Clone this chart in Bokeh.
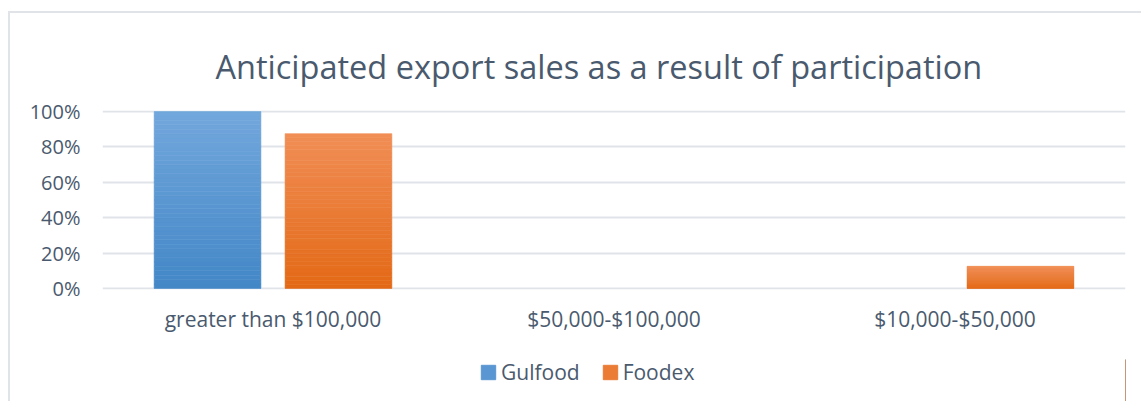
import numpy as np
from bokeh.plotting import figure
from bokeh.layouts import column
from bokeh.models import (ColumnDataSource, Legend, LegendItem, Title,
                          NumeralTickFormatter, FixedTicker)
from bokeh.transform import dodge
from bokeh.embed import file_html
from bokeh.resources import INLINE

# ---- data ----
categories = ["greater than $100,000", "$50,000-$100,000", "$10,000-$50,000"]
series_names = ["Gulfood", "Foodex"]
gulfood = [1.0, 0.0, 0.0]
foodex = [0.875, 0.0, 0.125]
y_ticks = [0, 0.2, 0.4, 0.6, 0.8, 1.0]
title_text = "Anticipated export sales as a result of participation"

# ---- style ----
FONT = "Open Sans"
TEXT_COLOR = "#4a5a6e"
GRID_COLOR = "#e0e4e9"
colors_top = {"Gulfood": (114, 167, 220), "Foodex": (241, 142, 86)}
colors_bot = {"Gulfood": (67, 135, 199), "Foodex": (227, 105, 22)}
offsets = {"Gulfood": -0.192, "Foodex": 0.192}
BAR_W = 0.313
N = 40

p = figure(x_range=categories, y_range=(-0.006, 1.006),
           frame_width=1023, frame_height=179,
           output_backend="svg", toolbar_location=None,
           min_border_left=92, min_border_right=16,
           min_border_top=97, min_border_bottom=70)
p.outline_line_color = None
p.background_fill_color = "white"
p.border_fill_color = "white"

def hexc(c):
    return "#%02x%02x%02x" % tuple(int(round(v)) for v in c)

def mix(name, t):
    return hexc([colors_bot[name][i] + (colors_top[name][i] - colors_bot[name][i]) * t for i in range(3)])

for name, vals in zip(series_names, [gulfood, foodex]):
    xs, bottoms, tops, cols = [], [], [], []
    for cat, v in zip(categories, vals):
        if v <= 0:
            continue
        for k in range(N):
            xs.append(cat)
            bottoms.append(v * k / N)
            tops.append(v * (k + 1) / N)
            cols.append(mix(name, (k + 0.5) / N))
    src = ColumnDataSource(dict(x=xs, bottom=bottoms, top=tops, color=cols))
    p.vbar(x=dodge("x", offsets[name], range=p.x_range), bottom="bottom", top="top",
           width=BAR_W, fill_color="color", line_color="color", line_width=0.6, source=src)

# axes
p.yaxis.ticker = FixedTicker(ticks=y_ticks)
p.yaxis.formatter = NumeralTickFormatter(format="0%")
for ax in (p.xaxis[0], p.yaxis[0]):
    ax.axis_line_color = None
    ax.major_tick_line_color = None
    ax.minor_tick_line_color = None
    ax.major_label_text_font = FONT
    ax.major_label_text_color = TEXT_COLOR
p.yaxis.major_label_text_font_size = "20px"
p.yaxis.major_label_standoff = 16
p.xaxis.major_label_text_font_size = "21px"
p.xaxis.major_label_standoff = 9

p.xgrid.grid_line_color = None
p.ygrid.ticker = FixedTicker(ticks=y_ticks)
p.ygrid.grid_line_color = GRID_COLOR
p.ygrid.grid_line_width = 2

# title
p.add_layout(Title(text=title_text, align="left", offset=113, standoff=43,
                   text_font=FONT, text_font_size="32.5px", text_color=TEXT_COLOR,
                   text_font_style="normal"), "above")

# legend strip (separate small figure so that the legend is not clipped)
p2 = figure(width=1131, height=42, x_range=(0, 1), y_range=(0, 1),
            x_axis_type=None, y_axis_type=None,
            output_backend="svg", toolbar_location=None,
            min_border_left=0, min_border_right=0, min_border_top=0, min_border_bottom=0)
p2.outline_line_color = None
p2.background_fill_color = "white"
p2.border_fill_color = "white"
p2.grid.grid_line_color = None
leg_renderers = {}
for name in series_names:
    # legend-only proxy bar, placed outside the visible range of the strip
    leg_renderers[name] = p2.vbar(x=[5.0], top=[1.0], width=0.1,
                                  fill_color=mix(name, 0.5), line_color=mix(name, 0.5))
items = [LegendItem(label=n, renderers=[leg_renderers[n]]) for n in series_names]
legend = Legend(items=items, orientation="horizontal", location=(377, 15),
                padding=0, margin=0, spacing=21, label_standoff=4,
                glyph_width=18, glyph_height=18,
                label_text_font=FONT, label_text_font_size="21px",
                label_text_color=TEXT_COLOR,
                border_line_color=None, background_fill_alpha=0)
p2.add_layout(legend, "center")

layout = column(p, p2, spacing=0)
layout.styles = {"border-top": "2px solid #e0e4e9", "border-left": "2px solid #e0e4e9",
                 "margin-top": "11px", "margin-left": "8px"}

open("out.html", "w").write(file_html(layout, INLINE))
